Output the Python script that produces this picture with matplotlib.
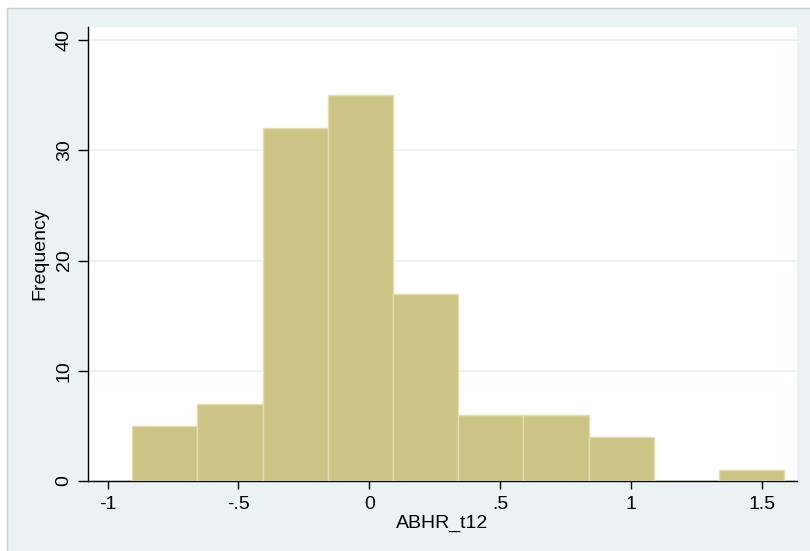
import matplotlib
matplotlib.use("Agg")
import matplotlib.pyplot as plt
from matplotlib.patches import Rectangle

# Data
bin_edges = [-0.906, -0.657, -0.407, -0.158, 0.091, 0.340, 0.589, 0.839, 1.088, 1.337, 1.586]
counts = [5, 7, 32, 35, 17, 6, 6, 4, 0, 1]
x_ticks = [-1, -0.5, 0, 0.5, 1, 1.5]
x_tick_labels = ["-1", "-.5", "0", ".5", "1", "1.5"]
y_ticks = [0, 10, 20, 30, 40]
y_tick_labels = ["0", "10", "20", "30", "40"]

plt.rcParams['font.family'] = ['Liberation Sans', 'DejaVu Sans']

W, H = 810, 551
fig = plt.figure(figsize=(W / 100, H / 100), dpi=100, facecolor='white')

bg = '#eaf2f3'
fig.patches.append(Rectangle((7 / W, -0.01), 1 - 7 / W + 0.01, 1 - 8 / H + 0.01, transform=fig.transFigure,
                             facecolor=bg, edgecolor='#c8cfd1', linewidth=1.0, zorder=-10))

ax = fig.add_axes([88 / W, 1 - 481 / H, (797 - 88) / W, (481 - 27) / H])
ax.set_facecolor('white')

widths = [bin_edges[i + 1] - bin_edges[i] for i in range(len(counts))]
ax.bar(bin_edges[:-1], counts, width=widths, align='edge', color='#cbc485',
       edgecolor='#e2deb0', linewidth=1.0, zorder=3)

ax.set_xlim(-1.075, 1.635)
ax.set_ylim(0, 41.2)

ax.set_yticks(y_ticks)
ax.set_yticklabels(y_tick_labels, rotation=90, va='center', fontsize=14)
ax.set_xticks(x_ticks)
ax.set_xticklabels(x_tick_labels, fontsize=14)

ax.yaxis.grid(True, color='#eaf2f3', linewidth=1.5, zorder=0)
ax.set_axisbelow(True)

for s in ['top', 'right']:
    ax.spines[s].set_visible(False)
for s in ['left', 'bottom']:
    ax.spines[s].set_color('black')
    ax.spines[s].set_linewidth(1.0)

ax.tick_params(axis='y', direction='out', length=7, width=1, pad=4, colors='black')
ax.tick_params(axis='x', direction='out', length=6, width=1, pad=5, colors='black')

ax.set_xlabel('ABHR_t12', fontsize=14, labelpad=1)
ax.set_ylabel('Frequency', fontsize=14, labelpad=5)

fig.savefig('out.png', dpi=100, facecolor=fig.get_facecolor())
